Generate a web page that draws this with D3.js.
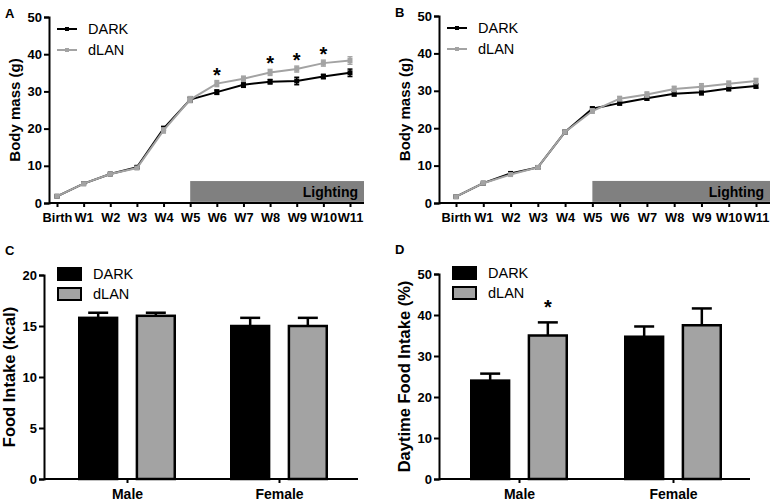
<!DOCTYPE html>
<html lang="en">
<head>
  <meta charset="UTF-8">
  <title>Body mass and food intake</title>
  <style>
    body { margin: 0; background: #fff; }
    text { font-family: "Liberation Sans", Arial, sans-serif; }
  </style>
</head>
<body>
  <svg id="svg" width="773" height="504"></svg>

  <script src="https://d3js.org/d3.v7.min.js"></script>
  <script>
    // ---- data ----
    const weeks = ['Birth', 'W1', 'W2', 'W3', 'W4', 'W5', 'W6', 'W7', 'W8', 'W9', 'W10', 'W11']

    // panel A (males)
    const aDark = [1.8, 5.2, 7.8, 9.6, 20.0, 27.8, 29.8, 31.8, 32.6, 32.8, 34.0, 35.0]
    const aDarkErr = [0.2, 0.2, 0.2, 0.3, 0.6, 0.7, 0.6, 0.7, 0.6, 1.0, 0.6, 1.0]
    const aLan = [1.8, 5.2, 7.8, 9.4, 19.5, 27.8, 32.1, 33.4, 35.1, 36.0, 37.6, 38.3]
    const aLanErr = [0.2, 0.2, 0.2, 0.3, 0.7, 0.8, 0.8, 0.7, 0.8, 0.8, 0.8, 1.0]
    const aStars = ['W6', 'W8', 'W9', 'W10']

    // panel B (females)
    const bDark = [1.7, 5.3, 7.9, 9.5, 19.0, 25.2, 26.7, 28.0, 29.2, 29.6, 30.6, 31.3]
    const bDarkErr = [0.2, 0.2, 0.2, 0.3, 0.5, 0.5, 0.5, 0.5, 0.6, 0.7, 0.6, 0.6]
    const bLan = [1.7, 5.3, 7.6, 9.5, 19.0, 24.6, 27.9, 29.0, 30.5, 31.1, 31.9, 32.6]
    const bLanErr = [0.2, 0.2, 0.2, 0.3, 0.5, 0.6, 0.6, 0.7, 0.7, 0.8, 0.7, 0.7]

    // panels C, D
    const sexes = ['Male', 'Female']
    const groups = ['DARK', 'dLAN']
    const cDark = [15.8, 15.0]
    const cDarkErr = [0.5, 0.8]
    const cLan = [16.0, 15.0]
    const cLanErr = [0.3, 0.8]
    const dDark = [24.0, 34.7]
    const dDarkErr = [1.7, 2.5]
    const dLan = [35.0, 37.5]
    const dLanErr = [3.2, 4.1]
    const dStars = [['Male', 'dLAN', 43]]

    const svg = d3.select('#svg')
    const grey = '#a3a3a3'

    function yAxis(g, y, ticks) {
      g.call(d3.axisLeft(y).tickValues(ticks).tickSize(5).tickFormat(d3.format('d')))
      g.select('.domain').attr('stroke-width', 2).attr('stroke', '#000')
      g.selectAll('.tick line').attr('stroke-width', 2)
      g.selectAll('.tick text').attr('font-size', 13).attr('font-weight', 'bold')
        .attr('font-family', 'Liberation Sans, Arial, sans-serif').attr('x', -7)
    }

    function linePanel(opt) {
      const g = svg.append('g')
      const x = d3.scalePoint().domain(weeks).range([opt.x0, opt.x1])
      const y = d3.scaleLinear().domain([0, 50]).range([opt.yb, opt.yt])

      // lighting bar
      g.append('rect')
        .attr('x', x('W5')).attr('y', y(5.9))
        .attr('width', opt.xEnd - x('W5')).attr('height', y(0.3) - y(5.9))
        .attr('fill', '#808080')
      g.append('text').attr('x', opt.xEnd - 6).attr('y', y(0.3) - 5)
        .attr('text-anchor', 'end').attr('font-size', 14).attr('font-weight', 'bold')
        .text('Lighting')

      yAxis(g.append('g').attr('transform', `translate(${opt.ax},0)`), y, [0, 10, 20, 30, 40, 50])

      const xg = g.append('g').attr('transform', `translate(0,${opt.yb})`)
        .call(d3.axisBottom(x).tickSize(4))
      xg.select('.domain').attr('d', `M${opt.ax},0H${opt.xEnd}`).attr('stroke-width', 2)
      xg.selectAll('.tick line').attr('stroke-width', 2)
      xg.selectAll('.tick text').attr('font-size', 12.8).attr('font-weight', 'bold')
        .attr('font-family', 'Liberation Sans, Arial, sans-serif').attr('dy', '0.9em')

      const series = [
        { vals: opt.dark, err: opt.darkErr, color: '#000' },
        { vals: opt.lan, err: opt.lanErr, color: grey }
      ]
      const line = d3.line().x((d, i) => x(weeks[i])).y(d => y(d))
      series.forEach(s => {
        g.append('path').datum(s.vals).attr('d', line)
          .attr('fill', 'none').attr('stroke', s.color).attr('stroke-width', 2)
        const eb = g.append('g')
        s.vals.forEach((v, i) => {
          const cx = x(weeks[i])
          eb.append('line').attr('x1', cx).attr('x2', cx)
            .attr('y1', y(v - s.err[i])).attr('y2', y(v + s.err[i]))
            .attr('stroke', s.color).attr('stroke-width', 1.5)
          ;[v - s.err[i], v + s.err[i]].forEach(e => {
            eb.append('line').attr('x1', cx - 2.5).attr('x2', cx + 2.5)
              .attr('y1', y(e)).attr('y2', y(e))
              .attr('stroke', s.color).attr('stroke-width', 1.5)
          })
        })
        g.append('g').selectAll('rect').data(s.vals).join('rect')
          .attr('x', (d, i) => x(weeks[i]) - 2.5).attr('y', d => y(d) - 2.5)
          .attr('width', 5).attr('height', 5).attr('fill', s.color)
      })

      // significance
      g.selectAll('.star').data(opt.stars || []).join('text')
        .attr('x', d => x(d)).attr('y', d => y(opt.lan[weeks.indexOf(d)]) - 2)
        .attr('text-anchor', 'middle').attr('font-size', 20).attr('font-weight', 'bold')
        .text('*')

      // legend
      const lg = [['DARK', '#000'], ['dLAN', grey]]
      lg.forEach((d, i) => {
        const ly = opt.yt + 12 + i * 21
        g.append('line').attr('x1', opt.ax + 8).attr('x2', opt.ax + 28)
          .attr('y1', ly).attr('y2', ly).attr('stroke', d[1]).attr('stroke-width', 2)
        g.append('rect').attr('x', opt.ax + 16).attr('y', ly - 2).attr('width', 4).attr('height', 4)
          .attr('fill', d[1])
        g.append('text').attr('x', opt.ax + 39).attr('y', ly + 5)
          .attr('font-size', 14.5).text(d[0])
      })

      g.append('text')
        .attr('transform', `translate(${opt.ax - 34},${(opt.yt + opt.yb) / 2}) rotate(-90)`)
        .attr('text-anchor', 'middle').attr('font-size', 15).attr('font-weight', 'bold')
        .attr('dy', '0.35em')
        .text(opt.ylabel)
      g.append('text').attr('x', opt.ax - 44).attr('y', opt.yt + 1)
        .attr('font-size', 13).attr('font-weight', 'bold').text(opt.letter)
    }

    function barPanel(opt) {
      const g = svg.append('g')
      const x0 = d3.scalePoint().domain(sexes).range([opt.c0, opt.c1])
      const xi = d3.scaleBand().domain(groups).range([-49, 49]).paddingInner(0.3).paddingOuter(0)
      const y = d3.scaleLinear().domain([0, opt.max]).range([opt.yb, opt.yt])

      const rows = []
      sexes.forEach((s, i) => {
        rows.push({ sex: s, grp: 'DARK', v: opt.dark[i], e: opt.darkErr[i], fill: '#000' })
        rows.push({ sex: s, grp: 'dLAN', v: opt.lan[i], e: opt.lanErr[i], fill: grey })
      })

      // error bars (upper only)
      rows.forEach(r => {
        const cx = x0(r.sex) + xi(r.grp) + xi.bandwidth() / 2
        g.append('line').attr('x1', cx).attr('x2', cx)
          .attr('y1', y(r.v)).attr('y2', y(r.v + r.e)).attr('stroke', '#000').attr('stroke-width', 2.5)
        g.append('line').attr('x1', cx - 10).attr('x2', cx + 10)
          .attr('y1', y(r.v + r.e)).attr('y2', y(r.v + r.e)).attr('stroke', '#000').attr('stroke-width', 2.5)
      })

      g.selectAll('.bar').data(rows).join('rect')
        .attr('x', d => x0(d.sex) + xi(d.grp) + 1.25)
        .attr('y', d => y(d.v))
        .attr('width', xi.bandwidth() - 2.5)
        .attr('height', d => y(0) - y(d.v))
        .attr('fill', d => d.fill).attr('stroke', '#000').attr('stroke-width', 2.5)

      g.selectAll('.star').data(opt.stars || []).join('text')
        .attr('x', d => x0(d[0]) + xi(d[1]) + xi.bandwidth() / 2)
        .attr('y', d => y(d[2]) + 11)
        .attr('text-anchor', 'middle').attr('font-size', 20).attr('font-weight', 'bold')
        .text('*')

      yAxis(g.append('g').attr('transform', `translate(${opt.ax},0)`), y, opt.ticks)

      const xg = g.append('g').attr('transform', `translate(0,${opt.yb})`)
        .call(d3.axisBottom(x0).tickSize(4))
      xg.select('.domain').attr('d', `M${opt.ax},0H${opt.xEnd}`).attr('stroke-width', 2)
      xg.selectAll('.tick line').attr('stroke-width', 2)
      xg.selectAll('.tick text').attr('font-size', 14).attr('font-weight', 'bold')
        .attr('font-family', 'Liberation Sans, Arial, sans-serif').attr('dy', '0.95em')

      // legend
      const lg = [['DARK', '#000'], ['dLAN', grey]]
      lg.forEach((d, i) => {
        const ly = opt.yt - 7 + i * 20
        g.append('rect').attr('x', opt.ax + 14).attr('y', ly)
          .attr('width', 23).attr('height', 12)
          .attr('fill', d[1]).attr('stroke', '#000').attr('stroke-width', 2)
        g.append('text').attr('x', opt.ax + 49).attr('y', ly + 11)
          .attr('font-size', 14.5).text(d[0])
      })

      g.append('text')
        .attr('transform', `translate(${opt.ax - 35},${(opt.yt + opt.yb) / 2}) rotate(-90)`)
        .attr('text-anchor', 'middle').attr('font-size', 16.5).attr('font-weight', 'bold')
        .attr('dy', '0.35em')
        .text(opt.ylabel)
      g.append('text').attr('x', opt.lx).attr('y', opt.yt - 20)
        .attr('font-size', 13).attr('font-weight', 'bold').text(opt.letter)
    }

    linePanel({ letter: 'A', ax: 49, x0: 57, x1: 350, xEnd: 364, yt: 17, yb: 203,
      dark: aDark, darkErr: aDarkErr, lan: aLan, lanErr: aLanErr, stars: aStars,
      ylabel: 'Body mass (g)' })
    linePanel({ letter: 'B', ax: 439, x0: 456, x1: 756, xEnd: 770, yt: 16, yb: 203,
      dark: bDark, darkErr: bDarkErr, lan: bLan, lanErr: bLanErr, stars: [],
      ylabel: 'Body mass (g)' })
    barPanel({ letter: 'C', lx: 5, ax: 44, c0: 127, c1: 279, xEnd: 358, yt: 275, yb: 479, max: 20,
      ticks: [0, 5, 10, 15, 20], dark: cDark, darkErr: cDarkErr, lan: cLan, lanErr: cLanErr,
      ylabel: 'Food Intake (kcal)' })
    barPanel({ letter: 'D', lx: 395, ax: 439, c0: 519, c1: 673, xEnd: 750, yt: 274, yb: 479, max: 50,
      ticks: [0, 10, 20, 30, 40, 50], dark: dDark, darkErr: dDarkErr, lan: dLan, lanErr: dLanErr,
      stars: dStars, ylabel: 'Daytime Food Intake (%)' })
  </script>
</body>
</html>
